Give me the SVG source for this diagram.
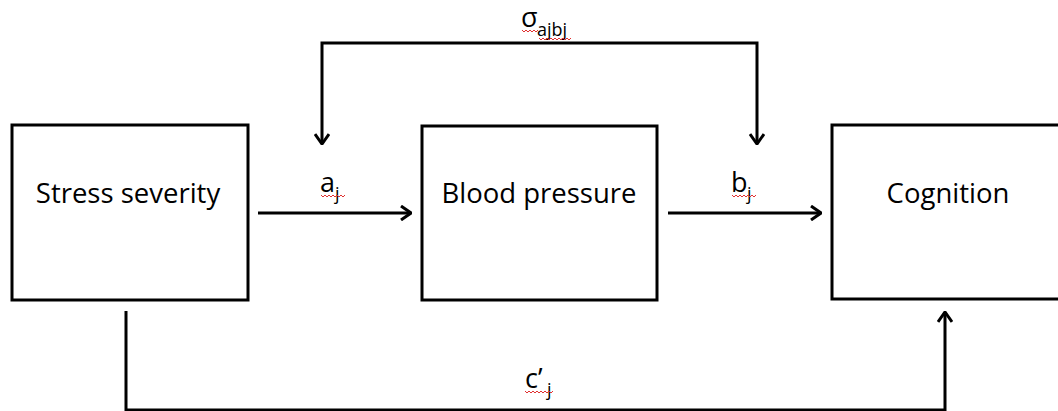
<svg xmlns="http://www.w3.org/2000/svg" width="1058" height="411" viewBox="0 0 1058 411">
<style>
.box{fill:#fff;stroke:#000;stroke-width:3}
.lbl{font-family:"Open Sans","Liberation Sans",sans-serif;font-size:27.5px;fill:#000;text-anchor:middle}
.edge{fill:none;stroke:#000;stroke-width:3}
.sq{fill:none;stroke:#e03030;stroke-width:1}
.t{font-family:"Open Sans","Liberation Sans",sans-serif;fill:#000}
.m{font-size:27px}
.s{font-size:18px}
</style>
<defs>
<marker id="ah" viewBox="0 0 12 16" refX="11" refY="8" markerWidth="12" markerHeight="16" markerUnits="userSpaceOnUse" orient="auto-start-reverse">
<path d="M1,1 L11,8 L1,15" fill="none" stroke="#000" stroke-width="3"/>
</marker>
</defs>
<rect width="1058" height="411" fill="#fff"/>
<g id="stress">
<rect class="box" x="12" y="125" width="236" height="175"/>
<text class="lbl" x="128" y="203">Stress severity</text>
</g>
<g id="bp">
<rect class="box" x="422" y="126" width="235" height="174"/>
<text class="lbl" x="539" y="203">Blood pressure</text>
</g>
<g id="cognition">
<rect class="box" x="832" y="125" width="240" height="174"/>
<text class="lbl" x="948" y="203">Cognition</text>
</g>
<g id="connectors">
<path class="edge" d="M258,213 L411,213" marker-end="url(#ah)"/>
<path class="edge" d="M668,213 L821,213" marker-end="url(#ah)"/>
<path class="edge" d="M322,144 L322,43 L757,43 L757,144" marker-start="url(#ah)" marker-end="url(#ah)"/>
<path class="edge" d="M126,311 L126,410 L945,410 L945,312" marker-end="url(#ah)"/>
</g>
<g id="labels">
<text class="t m" x="320" y="192">a</text>
<text class="t s" x="335" y="200">j</text>
<text class="t m" x="731" y="192">b</text>
<text class="t s" x="747" y="200">j</text>
<text class="t m" x="521" y="27">σ</text>
<text class="t s" x="537" y="36">ajbj</text>
<text class="t m" x="525" y="388">c’</text>
<text class="t s" x="547" y="396">j</text>
</g>
<g id="squiggles">
<path class="sq" d="M321,195 l2,2 l2,-2 l2,2 l2,-2 l2,2 l2,-2 l2,2 l2,-2 l2,2 l2,-2 l2,2 l2,-2"/>
<path class="sq" d="M732,195 l2,2 l2,-2 l2,2 l2,-2 l2,2 l2,-2 l2,2 l2,-2 l2,2 l2,-2 l2,2 l2,-2"/>
<path class="sq" d="M522,30 l2,2 l2,-2 l2,2 l2,-2 l2,2 l2,-2 l2,2 l2,-2"/>
<path class="sq" d="M539,38 l2,2 l2,-2 l2,2 l2,-2 l2,2 l2,-2 l2,2 l2,-2 l2,2 l2,-2 l2,2 l2,-2 l2,2 l2,-2 l2,2 l2,-2"/>
<path class="sq" d="M525,391 l2,2 l2,-2 l2,2 l2,-2 l2,2 l2,-2 l2,2 l2,-2 l2,2 l2,-2 l2,2 l2,-2 l2,2 l2,-2"/>
</g>
</svg>
